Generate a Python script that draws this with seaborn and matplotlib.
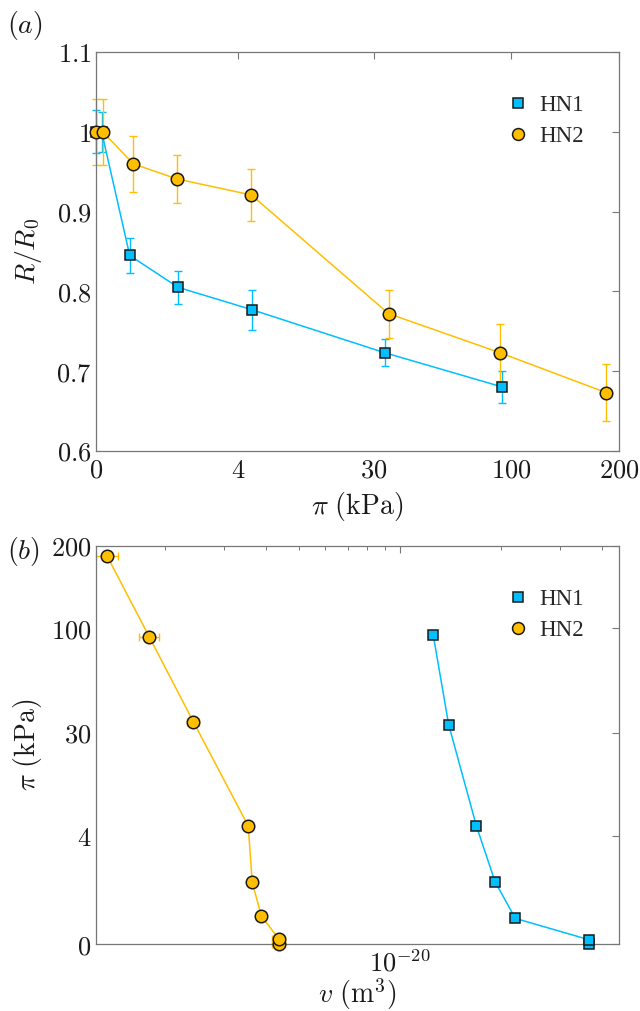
import numpy as np
import pandas as pd
import matplotlib
matplotlib.use("Agg")
import matplotlib.pyplot as plt
import seaborn as sns
from matplotlib.lines import Line2D
from matplotlib.ticker import FixedLocator, FixedFormatter, NullFormatter, LogLocator, FuncFormatter

# ---------------- data ----------------
samples = ["HN1", "HN2"]
pi_hn1 = [0, 0.0003, 0.055, 0.78, 5.3, 33.6, 93.6]          # kPa
r_hn1 = [1.0, 1.0, 0.845, 0.805, 0.777, 0.723, 0.680]        # R/R0
rerr_hn1 = [0.027, 0.025, 0.022, 0.021, 0.025, 0.017, 0.020]
v_hn1 = [3.652e-20, 3.652e-20, 2.204e-20, 1.918e-20, 1.687e-20, 1.396e-20, 1.256e-20]

pi_hn2 = [0, 0.0005, 0.074, 0.75, 5.25, 35, 92, 185]
r_hn2 = [1.0, 1.0, 0.960, 0.941, 0.921, 0.772, 0.723, 0.673]
rerr_hn2 = [0.042, 0.042, 0.035, 0.030, 0.033, 0.030, 0.036, 0.036]
v_hn2 = [4.355e-21, 4.355e-21, 3.866e-21, 3.634e-21, 3.535e-21, 2.425e-21, 1.794e-21, 1.345e-21]
verr_hn2 = [0.2e-21, 0.2e-21, 0.05e-21, 0.05e-21, 0.05e-21, 0.1e-21, 0.125e-21, 0.1e-21]

pi_ticks = [0, 4, 30, 100, 200]
r_ticks = [0.6, 0.7, 0.8, 0.9, 1.0, 1.1]

colors = {"HN1": "#00BFFF", "HN2": "#FFBF00"}
markers = {"HN1": "s", "HN2": "o"}
msizes = {"HN1": 7.2, "HN2": 9.0}

df = pd.concat([
    pd.DataFrame({"sample": "HN1", "pi": pi_hn1, "r": r_hn1, "rerr": rerr_hn1, "v": v_hn1, "verr": 0.0}),
    pd.DataFrame({"sample": "HN2", "pi": pi_hn2, "r": r_hn2, "rerr": rerr_hn2, "v": v_hn2, "verr": verr_hn2}),
], ignore_index=True)

# ---------------- style ----------------
sns.set_theme(style="white")
plt.rcParams["mathtext.fontset"] = "cm"
plt.rcParams["font.family"] = ["DejaVu Sans"]
plt.rcParams["axes.edgecolor"] = "#777777"
plt.rcParams["axes.linewidth"] = 0.9

fig = plt.figure(figsize=(6.4, 10.11), dpi=100)
W, H = 640, 1011


def px_axes(left, right, top, bottom):
    return fig.add_axes([left / W, 1 - bottom / H, (right - left) / W, (bottom - top) / H])


axA = px_axes(95.7, 619.3, 52.3, 450.7)
axB = px_axes(95.7, 619.0, 546.0, 944.3)

cbrt_funcs = (np.cbrt, lambda x: np.power(x, 3))

TICKFS = 19
LABFS = 20


def draw_lines(ax, xcol, ycol):
    for s in samples:
        d = df[df["sample"] == s]
        sns.lineplot(data=d, x=xcol, y=ycol, ax=ax, color=colors[s], marker=markers[s],
                     markersize=msizes[s], markeredgecolor="#1a1a1a", markeredgewidth=1.1,
                     linewidth=1.1, sort=False, estimator=None, legend=False, zorder=3)
    for ln in ax.lines:
        ln.set_clip_on(False)


# ---------------- panel (a) ----------------
axA.set_xscale("function", functions=cbrt_funcs)
for s in samples:
    d = df[df["sample"] == s]
    eb = axA.errorbar(d["pi"], d["r"], yerr=d["rerr"], fmt="none", ecolor=colors[s],
                      elinewidth=1.0, capsize=2.6, capthick=1.0, zorder=2)
    for art in eb.lines[1] + eb.lines[2]:
        art.set_clip_on(False)
draw_lines(axA, "pi", "r")

axA.set_xlim(0, 200)
axA.set_ylim(0.6, 1.1)
axA.xaxis.set_major_locator(FixedLocator(pi_ticks))
axA.xaxis.set_major_formatter(FixedFormatter([f"${t}$" for t in pi_ticks]))
axA.xaxis.set_minor_locator(FixedLocator([]))
axA.yaxis.set_major_locator(FixedLocator(r_ticks))
axA.yaxis.set_major_formatter(FuncFormatter(lambda y, p: f"${y:g}$"))
axA.set_xlabel(r"$\pi\ (\mathrm{kPa})$", fontsize=LABFS)
axA.set_ylabel(r"$R/R_0$", fontsize=LABFS)
axA.xaxis.set_label_coords(0.5, -0.098)
axA.yaxis.set_label_coords(-0.098, 0.5)

# ---------------- panel (b) ----------------
axB.set_xscale("log")
axB.set_yscale("function", functions=cbrt_funcs)
for s in samples:
    d = df[df["sample"] == s]
    if d["verr"].max() > 0:
        eb = axB.errorbar(d["v"], d["pi"], xerr=d["verr"], fmt="none", ecolor=colors[s],
                          elinewidth=1.0, capsize=2.6, capthick=1.0, zorder=2)
        for art in eb.lines[1] + eb.lines[2]:
            art.set_clip_on(False)
draw_lines(axB, "v", "pi")

axB.set_xlim(1.243e-21, 4.486e-20)
axB.set_ylim(0, 200)
axB.xaxis.set_major_locator(FixedLocator([1e-20]))
axB.xaxis.set_major_formatter(FixedFormatter([r"$10^{-20}$"]))
axB.xaxis.set_minor_locator(LogLocator(base=10, subs=np.arange(2, 10), numticks=20))
axB.xaxis.set_minor_formatter(NullFormatter())
axB.yaxis.set_major_locator(FixedLocator(pi_ticks))
axB.yaxis.set_major_formatter(FixedFormatter([f"${t}$" for t in pi_ticks]))
axB.yaxis.set_minor_locator(FixedLocator([]))
axB.set_xlabel(r"$v\ (\mathrm{m}^3)$", fontsize=LABFS)
axB.set_ylabel(r"$\pi\ (\mathrm{kPa})$", fontsize=LABFS)
axB.xaxis.set_label_coords(0.5, -0.08)
axB.yaxis.set_label_coords(-0.098, 0.5)

for ax in (axA, axB):
    ax.tick_params(which="both", direction="in", top=True, right=True,
                   colors="#777777", labelcolor="#1a1a1a", labelsize=TICKFS)
    ax.tick_params(axis="x", which="both", pad=5)
    ax.tick_params(axis="y", which="both", pad=3)
    ax.tick_params(which="major", length=5, width=0.8)
    ax.tick_params(which="minor", length=3, width=0.7)
    for sp in ax.spines.values():
        sp.set_visible(True)
        sp.set_color("#777777")
    ax.xaxis.label.set_color("#1a1a1a")
    ax.yaxis.label.set_color("#1a1a1a")
    handles = [Line2D([], [], linestyle="none", marker=markers[s], markersize=msizes[s] * 0.95,
                      markerfacecolor=colors[s], markeredgecolor="#1a1a1a", markeredgewidth=1.1)
               for s in samples]
    ax.legend(handles, samples, loc="upper left", bbox_to_anchor=(0.745, 0.945), frameon=False,
              handlelength=1.0, handletextpad=0.45, labelspacing=0.45,
              prop={"family": "Liberation Serif", "size": 16.5})

fig.text(7 / W, 1 - 25 / H, r"$(a)$", fontsize=20, va="center", ha="left", color="#1a1a1a")
fig.text(7 / W, 1 - 551 / H, r"$(b)$", fontsize=20, va="center", ha="left", color="#1a1a1a")

fig.savefig("out.png", dpi=100)
